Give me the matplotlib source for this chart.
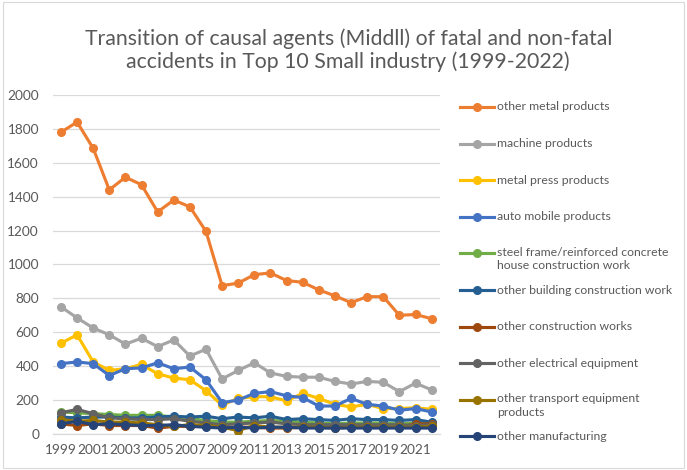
import matplotlib
matplotlib.use("Agg")
import matplotlib.pyplot as plt
from matplotlib.lines import Line2D
from matplotlib.patches import Rectangle

years = list(range(1999, 2023))

series_names = [
    "other metal products",
    "machine products",
    "metal press products",
    "auto mobile products",
    "steel frame/reinforced concrete\nhouse construction work",
    "other building construction work",
    "other construction works",
    "other electrical equipment",
    "other transport equipment\nproducts",
    "other manufacturing",
]

other_metal = [1780, 1840, 1685, 1440, 1515, 1470, 1310, 1380, 1340, 1195, 875, 890,
               940, 950, 905, 895, 850, 815, 775, 810, 810, 700, 705, 680]
machine = [750, 685, 625, 585, 530, 565, 515, 555, 460, 500, 325, 375,
           420, 360, 340, 335, 335, 310, 295, 310, 305, 250, 300, 260]
metal_press = [535, 585, 425, 375, 385, 410, 355, 330, 320, 255, 170, 210,
               220, 220, 195, 240, 210, 175, 160, 175, 150, 150, 155, 145]
auto_mobile = [415, 425, 415, 345, 385, 390, 420, 385, 395, 320, 185, 200,
               240, 250, 225, 215, 165, 165, 210, 175, 165, 140, 150, 130]
steel_frame = [130, 125, 120, 115, 110, 110, 110, 100, 90, 80, 70, 70,
               75, 80, 75, 70, 65, 60, 65, 65, 65, 60, 65, 65]
other_building = [100, 95, 100, 100, 95, 95, 100, 105, 100, 105, 90, 100,
                  95, 105, 85, 90, 85, 80, 90, 85, 85, 80, 85, 70]
other_construction = [60, 50, 60, 50, 50, 50, 35, 45, 45, 45, 40, 40,
                      40, 35, 35, 40, 40, 45, 40, 40, 45, 40, 60, 60]
other_electrical = [125, 145, 120, 95, 90, 85, 85, 90, 75, 65, 55, 60,
                    65, 70, 60, 55, 55, 55, 55, 55, 55, 55, 50, 55]
other_transport = [85, 75, 80, 70, 70, 65, 55, 45, 55, 50, 40, 20,
                   50, 40, 40, 40, 40, 35, 40, 40, 40, 40, 40, 45]
other_manufacturing = [60, 75, 55, 60, 55, 50, 50, 55, 45, 40, 35, 40,
                       35, 40, 40, 35, 35, 35, 35, 35, 35, 35, 35, 35]

all_series = [other_metal, machine, metal_press, auto_mobile, steel_frame,
              other_building, other_construction, other_electrical,
              other_transport, other_manufacturing]

colors = ["#ED7D31", "#A5A5A5", "#FFC000", "#4472C4", "#70AD47",
          "#255E91", "#9E480E", "#636363", "#997300", "#264478"]

yticks = [0, 200, 400, 600, 800, 1000, 1200, 1400, 1600, 1800, 2000]
xtick_labels = [str(y) for y in years[::2]]

plt.rcParams['font.family'] = ['Lato', 'DejaVu Sans']
text_color = "#595959"

fig = plt.figure(figsize=(6.87, 4.70), dpi=100)
fig.add_artist(Rectangle((0.004, 0.004), 0.992, 0.992, transform=fig.transFigure,
                         fill=False, edgecolor="#D9D9D9", linewidth=0.8))

ax = fig.add_axes([0.077, 0.0766, 0.563, 0.7214])
idx = list(range(len(years)))
for i, (vals, c) in enumerate(zip(all_series, colors)):
    ax.plot(idx, vals, color=c, linewidth=2.25, marker='o', markersize=5.5,
            zorder=3 + i, solid_capstyle='round')

ax.set_xlim(-0.5, len(years) - 0.5)
ax.set_ylim(0, 2000)
ax.set_yticks(yticks)
ax.set_yticklabels([str(v) for v in yticks])
ax.set_xticks(idx[::2])
ax.set_xticklabels(xtick_labels)
ax.tick_params(axis='both', length=0, labelsize=9.8, colors=text_color)
ax.tick_params(axis='y', pad=10)
ax.tick_params(axis='x', pad=7)
ax.grid(axis='y', color="#D9D9D9", linewidth=0.9)
ax.set_axisbelow(True)
for s in ["left", "right", "top"]:
    ax.spines[s].set_visible(False)
ax.spines["bottom"].set_color("#D9D9D9")
ax.spines["bottom"].set_linewidth(0.9)

fig.text(0.507, 0.893, "Transition of causal agents (Middll) of fatal and non-fatal\n"
         "accidents in Top 10 Small industry (1999-2022)",
         ha='center', va='center', fontsize=15.3, color=text_color, linespacing=1.15)

# legend
top_y = 1 - 107 / 470
step = 36.6 / 470
x0 = 460 / 687
x1 = 494 / 687
xt = 497 / 687
for i, (name, c) in enumerate(zip(series_names, colors)):
    yy = top_y - i * step
    fig.add_artist(Line2D([x0, x1], [yy, yy], transform=fig.transFigure,
                          color=c, linewidth=2.25))
    fig.add_artist(Line2D([(x0 + x1) / 2], [yy], transform=fig.transFigure,
                          color=c, marker='o', markersize=5.5, linestyle='None'))
    if "\n" in name:
        fig.text(xt, yy + 6.8 / 470, name, ha='left', va='top',
                 fontsize=8.8, color=text_color, linespacing=1.3)
    else:
        fig.text(xt, yy, name, ha='left', va='center',
                 fontsize=8.8, color=text_color)

fig.savefig("out.png", dpi=100)
